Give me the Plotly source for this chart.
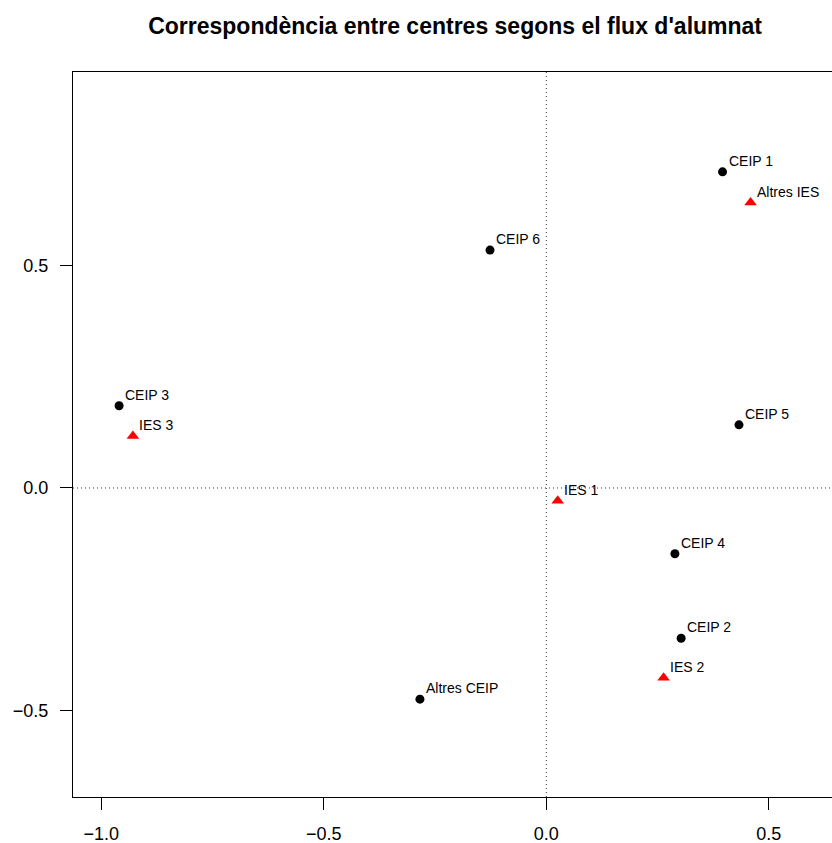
import plotly.graph_objects as go

ceip_labels = ["CEIP 1", "CEIP 2", "CEIP 3", "CEIP 4", "CEIP 5", "CEIP 6", "Altres CEIP"]
ceip_x = [0.396, 0.303, -0.960, 0.289, 0.433, -0.1265, -0.284]
ceip_y = [0.711, -0.338, 0.185, -0.148, 0.142, 0.535, -0.475]

ies_labels = ["IES 1", "IES 2", "IES 3", "Altres IES"]
ies_x = [0.0256, 0.2636, -0.929, 0.459]
ies_y = [-0.029, -0.427, 0.117, 0.642]

x_ticks = [-1.0, -0.5, 0.0, 0.5]
y_ticks = [-0.5, 0.0, 0.5]
title = "Correspondència entre centres segons el flux d'alumnat"

FONT = "Liberation Sans, Arial, sans-serif"

fig = go.Figure()
fig.add_trace(go.Scatter(
    x=ceip_x, y=ceip_y, mode="markers",
    marker=dict(symbol="circle", size=9, color="black"), showlegend=False, cliponaxis=False))
fig.add_trace(go.Scatter(
    x=ies_x, y=ies_y, mode="markers",
    marker=dict(symbol="triangle-up", size=11, color="red"), showlegend=False, cliponaxis=False))

for lx, ly, lt in zip(ceip_x + ies_x, ceip_y + ies_y, ceip_labels + ies_labels):
    fig.add_annotation(x=lx, y=ly, text=lt, showarrow=False, xanchor="left", yanchor="bottom",
                       xshift=4, yshift=1, font=dict(family=FONT, size=14, color="black"))

fig.add_hline(y=0, line=dict(color="#333333", width=1, dash="1px,3px"), layer="below")
fig.add_vline(x=0, line=dict(color="#333333", width=1, dash="1px,3px"), layer="below")

fig.update_layout(
    width=832, height=843,
    margin=dict(l=73, r=0, t=72, b=46),
    paper_bgcolor="white", plot_bgcolor="white",
    font=dict(family=FONT, color="black"),
    title=dict(text="<b>" + title + "</b>", x=0.547, xanchor="center", y=0.969, yanchor="middle",
               font=dict(family=FONT, size=23, color="black")),
)
fig.update_xaxes(range=[-1.0636, 0.642], tickvals=x_ticks, tickformat=".1f",
                 showgrid=False, zeroline=False, showline=True, mirror=True,
                 linecolor="black", linewidth=1, ticks="outside", ticklen=12,
                 tickcolor="black", ticklabelstandoff=8,
                 tickfont=dict(family=FONT, size=18, color="black"))
fig.update_yaxes(range=[-0.695, 0.9355], tickvals=y_ticks, tickformat=".1f",
                 showgrid=False, zeroline=False, showline=True, mirror=False,
                 linecolor="black", linewidth=1, ticks="outside", ticklen=12,
                 tickcolor="black", ticklabelstandoff=8,
                 tickfont=dict(family=FONT, size=18, color="black"))

fig.write_html("out.html", config={"displayModeBar": False},
               post_script="document.body.style.margin='0';document.body.style.overflow='hidden';")
